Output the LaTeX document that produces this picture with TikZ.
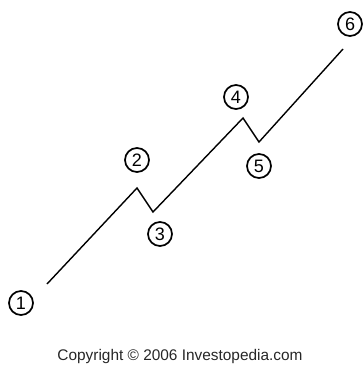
\documentclass[tikz,border=0pt]{standalone}
\usepackage{fontspec}
\setmainfont{Liberation Sans}
\begin{document}
\begin{tikzpicture}[x=1pt,y=-1pt,
  wave/.style={line width=1.4pt, black},
  num/.style={circle, draw, line width=1.7pt, minimum size=24pt, inner sep=0pt, font=\fontsize{18}{18}\selectfont},
  copy/.style={font=\fontsize{15.4}{16}\selectfont, text=black!85}]
\useasboundingbox (0,0) rectangle (363,374);
\coordinate (p1) at (47,284);
\coordinate (p2) at (137,188);
\coordinate (p3) at (153,212);
\coordinate (p4) at (243,118);
\coordinate (p5) at (259,142);
\coordinate (p6) at (343,49);
\draw[wave] (p1) -- (p2) -- (p3) -- (p4) -- (p5) -- (p6);
\node[num] (n1) at (21,303) {1};
\node[num] (n2) at (137,160) {2};
\node[num] (n3) at (160,234) {3};
\node[num] (n4) at (236,97) {4};
\node[num] (n5) at (259,166) {5};
\node[num] (n6) at (350,24) {6};
\node[copy] (c) at (180,357) {Copyright © 2006 Investopedia.com};
\end{tikzpicture}
\end{document}
